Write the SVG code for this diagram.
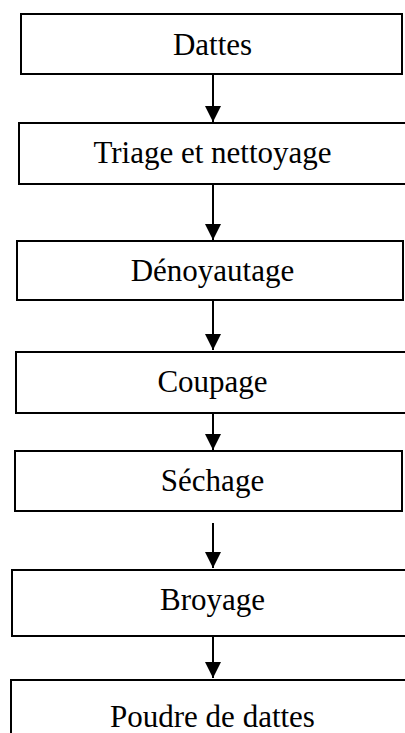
<svg xmlns="http://www.w3.org/2000/svg" width="405" height="733" viewBox="0 0 405 733">
<style>
.box{fill:#fff;stroke:#000;stroke-width:2}
.lbl{font-family:"Liberation Serif","Times New Roman",serif;font-size:31px;fill:#000;text-anchor:middle}
.con{stroke:#000;stroke-width:2;fill:none}
</style>
<defs>
<marker id="ah" markerUnits="userSpaceOnUse" markerWidth="16" markerHeight="16" viewBox="0 0 16 16" refX="16" refY="8" orient="auto">
<path d="M0,0 L16,8 L0,16 Z" fill="#000"/>
</marker>
</defs>
<rect width="405" height="733" fill="#fff"/>
<g id="n1"><rect class="box" x="21" y="14" width="381" height="60"/><text class="lbl" x="212.5" y="55">Dattes</text></g>
<g id="n2"><rect class="box" x="19" y="123" width="400" height="61"/><text class="lbl" x="212.5" y="163">Triage et nettoyage</text></g>
<g id="n3"><rect class="box" x="17" y="241" width="386" height="59"/><text class="lbl" x="212.5" y="281">Dénoyautage</text></g>
<g id="n4"><rect class="box" x="16" y="352" width="400" height="61"/><text class="lbl" x="212.5" y="392">Coupage</text></g>
<g id="n5"><rect class="box" x="15" y="451" width="387" height="60"/><text class="lbl" x="212.5" y="491">Séchage</text></g>
<g id="n6"><rect class="box" x="12" y="570" width="400" height="66"/><text class="lbl" x="212.5" y="610">Broyage</text></g>
<g id="n7"><rect class="box" x="11" y="680" width="400" height="80"/><text class="lbl" x="212.5" y="727">Poudre de dattes</text></g>
<g id="connectors">
<line class="con" x1="213" y1="74" x2="213" y2="122" marker-end="url(#ah)"/>
<line class="con" x1="213" y1="184" x2="213" y2="240" marker-end="url(#ah)"/>
<line class="con" x1="213" y1="300" x2="213" y2="350" marker-end="url(#ah)"/>
<line class="con" x1="213" y1="413" x2="213" y2="450" marker-end="url(#ah)"/>
<line class="con" x1="213" y1="523" x2="213" y2="568" marker-end="url(#ah)"/>
<line class="con" x1="213" y1="636" x2="213" y2="678" marker-end="url(#ah)"/>
</g>
</svg>
